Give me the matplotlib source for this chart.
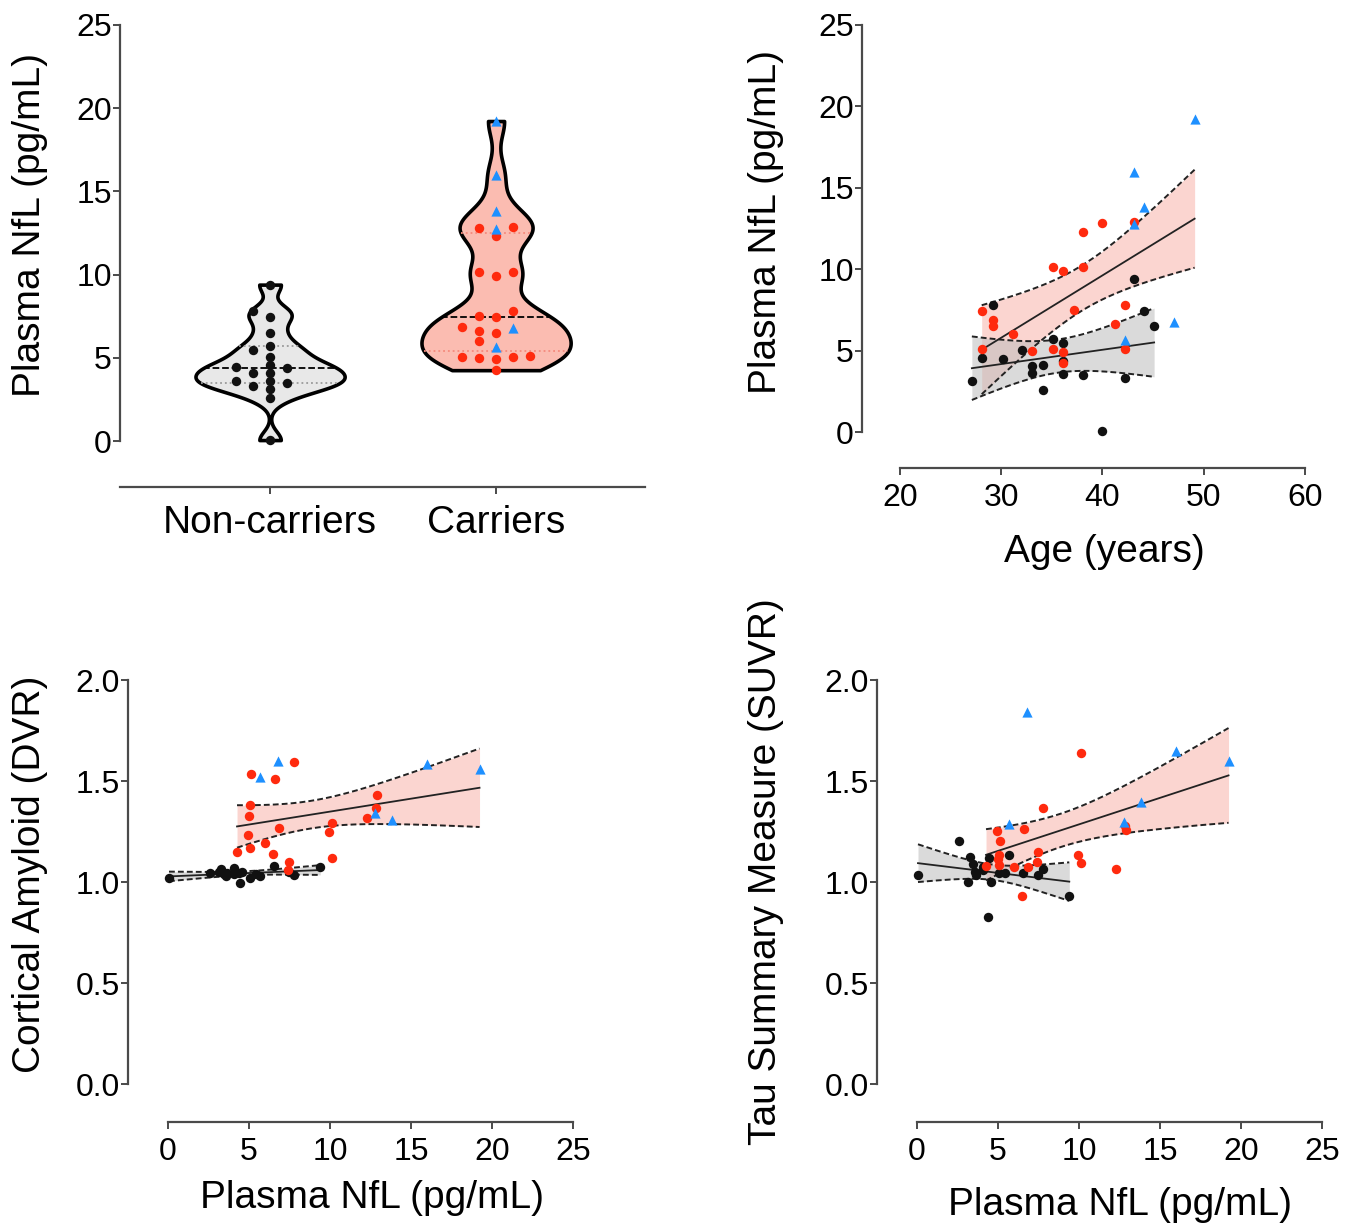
import numpy as np
import matplotlib
matplotlib.use("Agg")
import matplotlib.pyplot as plt

plt.rcParams['font.family'] = ['Liberation Sans', 'DejaVu Sans']

# participants: non-carriers (black), carriers (red), symptomatic carriers (blue triangles)
nc_age = [43.15, 29.15, 44.1, 45.1, 35.1, 36.1, 32.1, 28.07, 30.2, 36.1,
          34.1, 33.0, 33.0, 36.1, 38.1, 42.2, 27.1, 34.1, 40.0]
nc_nfl = [9.40, 7.80, 7.46, 6.52, 5.69, 5.46, 5.05, 4.55, 4.46, 4.38,
          4.10, 4.06, 3.62, 3.58, 3.48, 3.30, 3.15, 2.58, 0.06]
nc_dvr = [1.076, 1.035, 1.051, 1.081, 1.030, 1.038, 1.018, 1.051, 0.997, 1.043,
          1.040, 1.071, 1.045, 1.031, 1.038, 1.064, 1.050, 1.043, 1.021]
nc_tau = [0.931, 1.063, 1.035, 1.043, 1.134, 1.043, 1.043, 1.002, 1.117, 0.828,
          1.060, 1.076, 1.035, 1.051, 1.090, 1.125, 1.002, 1.203, 1.035]

red_age = [43.15, 40.0, 38.1, 35.1, 38.1, 36.1, 42.2, 37.15, 28.07, 29.15,
           41.2, 29.15, 31.2, 42.2, 35.1, 28.07, 33.0, 36.1, 36.1]
red_nfl = [12.88, 12.82, 12.30, 10.15, 10.15, 9.91, 7.80, 7.49, 7.43, 6.88,
           6.63, 6.51, 6.00, 5.12, 5.08, 5.08, 4.99, 4.93, 4.26]
red_dvr = [1.431, 1.365, 1.318, 1.290, 1.117, 1.246, 1.596, 1.100, 1.060, 1.269,
           1.508, 1.139, 1.192, 1.533, 1.381, 1.170, 1.327, 1.233, 1.150]
red_tau = [1.257, 1.275, 1.063, 1.637, 1.092, 1.134, 1.365, 1.150, 1.100, 1.076,
           1.262, 0.931, 1.073, 1.205, 1.084, 1.134, 1.115, 1.254, 1.081]

blue_age = [49.1, 43.15, 44.1, 43.15, 47.1, 42.2]
blue_nfl = [19.23, 15.99, 13.80, 12.76, 6.78, 5.65]
blue_dvr = [1.558, 1.584, 1.307, 1.343, 1.600, 1.520]
blue_tau = [1.600, 1.650, 1.398, 1.299, 1.840, 1.287]

groups = ["Non-carriers", "Carriers"]

RED = '#ff2a0e'
BLUE = '#1e90ff'
BLK = '#111111'
SPINE = '#4a4a4a'
W, H = 1360, 1226
TICK_FS = 23
LAB_FS = 28
DOT = 46
TRI = 54

# t values (two-sided 95%) for df = 17 and df = 23
T_NC = 2.110
T_C = 2.069

fig = plt.figure(figsize=(W / 100, H / 100), dpi=100)


def add_ax(left, top, right, bottom):
    return fig.add_axes([left / W, 1 - bottom / H, (right - left) / W, (bottom - top) / H])


def style(ax, xb=None, yb=None):
    for s in ['top', 'right']:
        ax.spines[s].set_visible(False)
    for s in ['left', 'bottom']:
        ax.spines[s].set_color(SPINE)
        ax.spines[s].set_linewidth(1.6)
    if xb:
        ax.spines['bottom'].set_bounds(*xb)
    if yb:
        ax.spines['left'].set_bounds(*yb)
    ax.tick_params(axis='both', direction='out', length=5, width=1.4, color=SPINE,
                   labelsize=TICK_FS, labelcolor='black')
    ax.tick_params(axis='y', pad=1)
    ax.tick_params(axis='x', pad=6)


def kde(vals, grid, bw):
    vals = np.asarray(vals)
    return np.exp(-0.5 * ((grid[:, None] - vals[None, :]) / bw) ** 2).sum(axis=1)


def swarm(vals, center, step=0.075, gap=0.45):
    vals = np.asarray(vals)
    xs = np.zeros(len(vals))
    placed = []
    cands = [0, -1, 1, -2, 2, -3, 3, -4, 4]
    for i in np.argsort(vals):
        for c in cands:
            if all(not (pc == c and abs(vals[i] - pv) < gap) for pv, pc in placed):
                break
        placed.append((vals[i], c))
        xs[i] = center + c * step
    return xs


def violin(ax, vals, pos, bw, face, qcol, half=0.33):
    vals = np.asarray(vals)
    grid = np.linspace(vals.min(), vals.max(), 300)
    d = kde(vals, grid, bw)
    w = d / d.max() * half
    ax.fill_betweenx(grid, pos - w, pos + w, facecolor=face, edgecolor='black',
                     linewidth=2.6, zorder=2)
    q1, med, q3 = np.percentile(vals, [25, 50, 75], method='weibull')
    for q, ls, col in [(q1, ':', qcol), (q3, ':', qcol), (med, '--', 'black')]:
        hw = np.interp(q, grid, w)
        ax.plot([pos - hw, pos + hw], [q, q], ls=ls, color=col, lw=1.3, zorder=3)


def fit_band(ax, x, y, t, fill, alpha):
    x = np.asarray(x)
    y = np.asarray(y)
    n = len(x)
    b, a = np.polyfit(x, y, 1)
    xs = np.linspace(x.min(), x.max(), 200)
    yh = a + b * xs
    s = np.sqrt(np.sum((y - (a + b * x)) ** 2) / (n - 2))
    sxx = np.sum((x - x.mean()) ** 2)
    se = s * np.sqrt(1 / n + (xs - x.mean()) ** 2 / sxx)
    ax.fill_between(xs, yh - t * se, yh + t * se, color=fill, alpha=alpha, lw=0, zorder=1)
    ax.plot(xs, yh, color='#222222', lw=1.3, zorder=2)
    for yy in (yh - t * se, yh + t * se):
        ax.plot(xs, yy, color='#222222', lw=1.4, dashes=(3, 1.6), zorder=2)


def scatter_groups(ax, xnc, ync, xr, yr, xb, yb):
    ax.scatter(xnc, ync, s=DOT, color=BLK, lw=0, zorder=5)
    ax.scatter(xr, yr, s=DOT, color=RED, lw=0, zorder=5)
    ax.scatter(xb, yb, s=TRI, marker='^', color=BLUE, lw=0, zorder=6)


# ---- A: violin plot
axA = add_ax(120, 25, 645, 487)
axA.set_xlim(-0.664, 1.659)
axA.set_ylim(-2.76, 25)
style(axA, yb=(0, 25))
car_nfl = red_nfl + blue_nfl
violin(axA, nc_nfl, 0, 0.52, '#e8e8e8', '#9a9a9a')
violin(axA, car_nfl, 1, 1.0, '#fbbcb1', '#f58a7c')
xs_nc = swarm(nc_nfl, 0)
xs_c = swarm(car_nfl, 1)
nr = len(red_nfl)
axA.scatter(xs_nc, nc_nfl, s=DOT, color=BLK, lw=0, zorder=5)
axA.scatter(xs_c[:nr], red_nfl, s=DOT, color=RED, lw=0, zorder=5)
axA.scatter(xs_c[nr:], blue_nfl, s=TRI, marker='^', color=BLUE, lw=0, zorder=6)
axA.set_xticks([0, 1])
axA.set_xticklabels(groups, fontsize=LAB_FS)
axA.tick_params(axis='x', pad=8)
axA.set_yticks([0, 5, 10, 15, 20, 25])
axA.set_ylabel("Plasma NfL (pg/mL)", fontsize=LAB_FS, va='center')
axA.yaxis.set_label_coords(30 / W, 1 - 225 / H, transform=fig.transFigure)

# ---- B: NfL vs age
axB = add_ax(862, 25, 1305, 468)
axB.set_xlim(16.25, 60)
axB.set_ylim(-2.21, 25)
style(axB, xb=(20, 60), yb=(0, 25))
fit_band(axB, red_age + blue_age, red_nfl + blue_nfl, T_C, '#f8b4ab', 0.55)
fit_band(axB, nc_age, nc_nfl, T_NC, '#bdbdbd', 0.55)
scatter_groups(axB, nc_age, nc_nfl, red_age, red_nfl, blue_age, blue_nfl)
axB.set_xticks([20, 30, 40, 50, 60])
axB.set_yticks([0, 5, 10, 15, 20, 25])
axB.set_ylabel("Plasma NfL (pg/mL)", fontsize=LAB_FS, va='center')
axB.yaxis.set_label_coords(766 / W, 1 - 222 / H, transform=fig.transFigure)
axB.set_xlabel("Age (years)", fontsize=LAB_FS, va='center')
axB.xaxis.set_label_coords(1104 / W, 1 - 552 / H, transform=fig.transFigure)

# ---- C: amyloid vs NfL
axC = add_ax(128, 680, 573, 1122)
axC.set_xlim(-2.47, 25)
axC.set_ylim(-0.188, 2.0)
style(axC, xb=(0, 25), yb=(0, 2))
fit_band(axC, red_nfl + blue_nfl, red_dvr + blue_dvr, T_C, '#f8b4ab', 0.55)
fit_band(axC, nc_nfl, nc_dvr, T_NC, '#bdbdbd', 0.55)
scatter_groups(axC, nc_nfl, nc_dvr, red_nfl, red_dvr, blue_nfl, blue_dvr)
axC.set_xticks([0, 5, 10, 15, 20, 25])
axC.set_yticks([0, 0.5, 1.0, 1.5, 2.0])
axC.set_yticklabels(["0.0", "0.5", "1.0", "1.5", "2.0"])
axC.set_ylabel("Cortical Amyloid (DVR)", fontsize=LAB_FS, va='center')
axC.yaxis.set_label_coords(30 / W, 1 - 874 / H, transform=fig.transFigure)
axC.set_xlabel("Plasma NfL (pg/mL)", fontsize=LAB_FS, va='center')
axC.xaxis.set_label_coords(372 / W, 1 - 1198 / H, transform=fig.transFigure)

# ---- D: tau vs NfL
axD = add_ax(877, 680, 1322, 1122)
axD.set_xlim(-2.47, 25)
axD.set_ylim(-0.188, 2.0)
style(axD, xb=(0, 25), yb=(0, 2))
fit_band(axD, red_nfl + blue_nfl, red_tau + blue_tau, T_C, '#f8b4ab', 0.55)
fit_band(axD, nc_nfl, nc_tau, T_NC, '#bdbdbd', 0.55)
scatter_groups(axD, nc_nfl, nc_tau, red_nfl, red_tau, blue_nfl, blue_tau)
axD.set_xticks([0, 5, 10, 15, 20, 25])
axD.set_yticks([0, 0.5, 1.0, 1.5, 2.0])
axD.set_yticklabels(["0.0", "0.5", "1.0", "1.5", "2.0"])
axD.set_ylabel("Tau Summary Measure (SUVR)", fontsize=LAB_FS, va='center')
axD.yaxis.set_label_coords(766 / W, 1 - 872 / H, transform=fig.transFigure)
axD.set_xlabel("Plasma NfL (pg/mL)", fontsize=LAB_FS, va='center')
axD.xaxis.set_label_coords(1120 / W, 1 - 1205 / H, transform=fig.transFigure)

fig.savefig("out.png", dpi=100)
plt.close(fig)
